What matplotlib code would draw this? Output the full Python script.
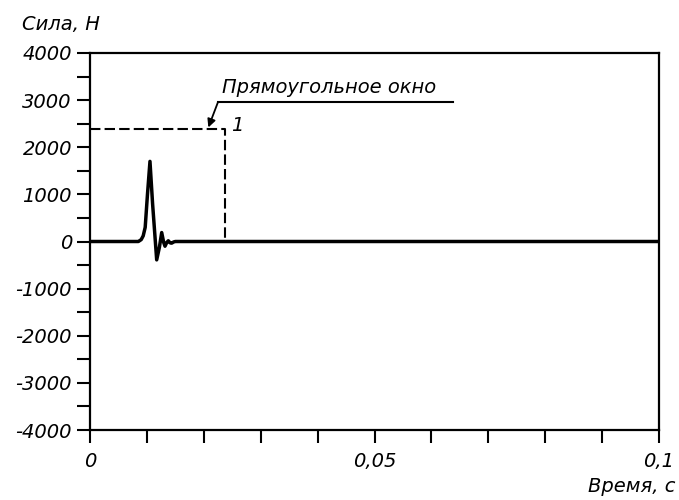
import matplotlib
matplotlib.use("Agg")
import matplotlib.pyplot as plt
from matplotlib.ticker import MultipleLocator, FixedLocator

# Signal (force vs time)
t = [0.0, 0.0085, 0.0090, 0.00935, 0.0097, 0.0101, 0.01054, 0.0110, 0.01172,
     0.0122, 0.0126, 0.01295, 0.01318, 0.0135, 0.01376, 0.0141, 0.01436, 0.0147, 0.0150, 0.1]
F = [0, 0, 40, 120, 300, 1000, 1700, 800, -390,
     -120, 190, -20, -100, -20, 15, -30, -35, -10, 0, 0]

# Rectangular window
win_t = [0.0, 0.0237, 0.0237]
win_F = [2380, 2380, 0]

y_ticks = [-4000, -3000, -2000, -1000, 0, 1000, 2000, 3000, 4000]
y_labels = ["-4000", "-3000", "-2000", "-1000", "0", "1000", "2000", "3000", "4000"]
x_ticks = [0, 0.05, 0.1]
x_labels = ["0", "0,05", "0,1"]

font = dict(family="DejaVu Sans", style="italic", size=14)

fig = plt.figure(figsize=(6.79, 5.0), dpi=100)
ax = fig.add_axes([90/679, 1-430/500, (659-90)/679, (430-53)/500])

ax.plot(t, F, color="black", lw=2.5, solid_joinstyle="round")
ax.plot(win_t, win_F, color="black", lw=1.5, ls=(0, (5, 2)))

ax.set_xlim(0, 0.1)
ax.set_ylim(-4000, 4000)
ax.yaxis.set_major_locator(FixedLocator(y_ticks))
ax.set_yticklabels(y_labels, fontdict=font)
ax.yaxis.set_minor_locator(MultipleLocator(500))
ax.xaxis.set_major_locator(FixedLocator(x_ticks))
ax.set_xticklabels(x_labels, fontdict=font)
ax.xaxis.set_minor_locator(MultipleLocator(0.01))

ax.tick_params(which="both", direction="out", length=9.5, width=1.5, color="black")
ax.tick_params(axis="y", which="major", pad=3.5)
ax.tick_params(axis="x", which="major", pad=6)
for s in ax.spines.values():
    s.set_linewidth(1.6)

# Annotation
ax.text(0.0232, 3150, "Прямоугольное окно", fontdict=font, ha="left", va="baseline")
ax.plot([0.0225, 0.0638], [2960, 2960], color="black", lw=1.5)
ax.annotate("", xy=(0.0208, 2420), xytext=(0.0225, 2960),
            arrowprops=dict(arrowstyle="-|>", color="black", lw=1.3,
                            shrinkA=0, shrinkB=0, mutation_scale=12))
ax.text(0.0259, 2470, "1", fontdict=font, ha="center", va="center")

fig.text(22/679, 1-30/500, "Сила, Н", fontdict=font, ha="left", va="baseline")
fig.text(675/679, 1-492/500, "Время, с", fontdict=font, ha="right", va="baseline")

fig.savefig("out.png", dpi=100)
